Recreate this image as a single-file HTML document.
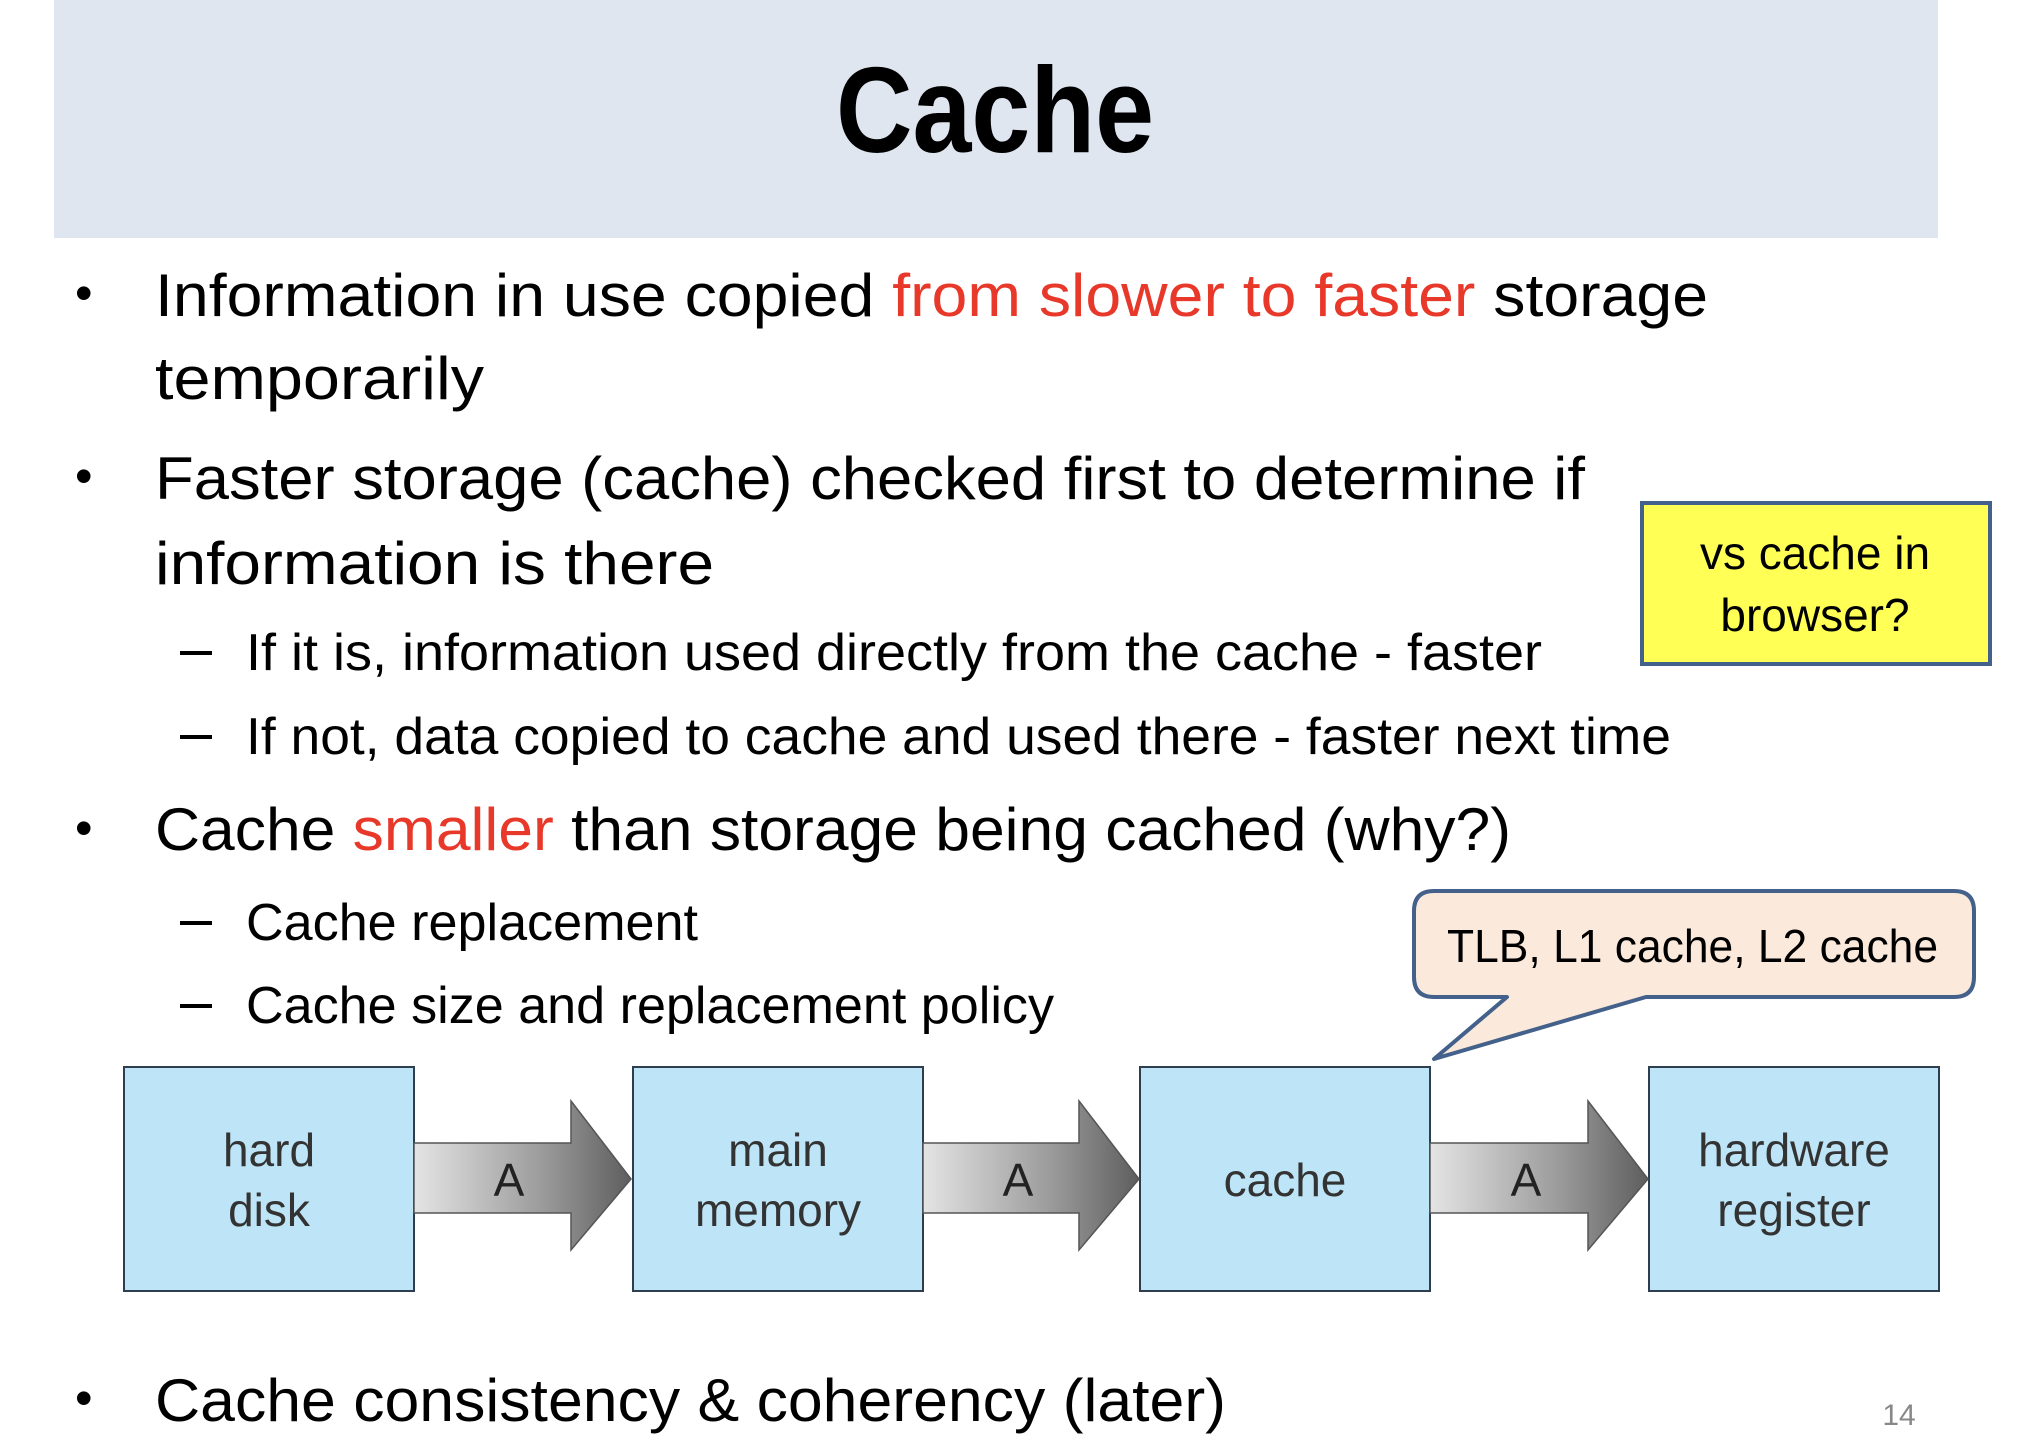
<!DOCTYPE html>
<html><head><meta charset="utf-8"><style>html,body{margin:0;padding:0;background:#fff}svg{display:block}</style></head>
<body>
<svg width="2020" height="1454" viewBox="0 0 2020 1454" xmlns="http://www.w3.org/2000/svg" font-family="Liberation Sans, sans-serif">
<defs>
<linearGradient id="g" x1="0" x2="1" y1="0" y2="0">
<stop offset="0" stop-color="#e4e4e4"/><stop offset="0.6" stop-color="#9a9a9a"/><stop offset="1" stop-color="#5e5e5e"/>
</linearGradient>
</defs>
<rect x="54" y="0" width="1884" height="238" fill="#dfe6f0"/>
<text x="995" y="152" text-anchor="middle" font-size="122" font-weight="bold" textLength="318" lengthAdjust="spacingAndGlyphs">Cache</text>

<g font-size="60" fill="#000">
<text x="75" y="310" font-size="50">•</text>
<text x="155" y="316" textLength="1553" lengthAdjust="spacingAndGlyphs">Information in use copied <tspan fill="#e8382a">from slower to faster</tspan> storage</text>
<text x="155" y="399" textLength="329" lengthAdjust="spacingAndGlyphs">temporarily</text>
<text x="75" y="493" font-size="50">•</text>
<text x="155" y="499" textLength="1430" lengthAdjust="spacingAndGlyphs">Faster storage (cache) checked first to determine if</text>
<text x="155" y="584" textLength="559" lengthAdjust="spacingAndGlyphs">information is there</text>
<text x="75" y="845" font-size="50">•</text>
<text x="155" y="850" textLength="1356" lengthAdjust="spacingAndGlyphs">Cache <tspan fill="#e8382a">smaller</tspan> than storage being cached (why?)</text>
<text x="75" y="1415" font-size="50">•</text>
<text x="155" y="1421" textLength="1071" lengthAdjust="spacingAndGlyphs">Cache consistency &amp; coherency (later)</text>
</g>
<g font-size="52" fill="#000">
<rect x="180" y="651" width="32" height="4"/>
<text x="246" y="670" textLength="1296" lengthAdjust="spacingAndGlyphs">If it is, information used directly from the cache - faster</text>
<rect x="180" y="735" width="32" height="4"/>
<text x="246" y="754" textLength="1425" lengthAdjust="spacingAndGlyphs">If not, data copied to cache and used there - faster next time</text>
<rect x="180" y="921" width="32" height="4"/>
<text x="246" y="940" textLength="452" lengthAdjust="spacingAndGlyphs">Cache replacement</text>
<rect x="180" y="1004" width="32" height="4"/>
<text x="246" y="1023" textLength="808" lengthAdjust="spacingAndGlyphs">Cache size and replacement policy</text>
</g>
<text x="1899" y="1425" text-anchor="middle" font-size="30" fill="#888">14</text>

<rect x="1642" y="503" width="348" height="161" fill="#ffff55" stroke="#44618b" stroke-width="4"/>
<text x="1815" y="569" text-anchor="middle" font-size="46">vs cache in</text>
<text x="1815" y="631" text-anchor="middle" font-size="46">browser?</text>

<path d="M1434 891 H1954 Q1974 891 1974 911 V977 Q1974 997 1954 997 H1646 L1434 1059 L1507 997 H1434 Q1414 997 1414 977 V911 Q1414 891 1434 891 Z" fill="#fbe9db" stroke="#44618b" stroke-width="4" stroke-linejoin="round"/>
<text x="1447" y="962" font-size="46" textLength="491" lengthAdjust="spacingAndGlyphs">TLB, L1 cache, L2 cache</text>

<g fill="#bde5f7" stroke="#2e3e4e" stroke-width="2">
<rect x="124" y="1067" width="290" height="224"/>
<rect x="633" y="1067" width="290" height="224"/>
<rect x="1140" y="1067" width="290" height="224"/>
<rect x="1649" y="1067" width="290" height="224"/>
</g>
<g fill="url(#g)" stroke="#555" stroke-width="1.5">
<path d="M414 1143 H571 V1101 L631 1179 L571 1250 V1213 H414 Z"/>
<path d="M923 1143 H1079 V1101 L1139 1179 L1079 1250 V1213 H923 Z"/>
<path d="M1430 1143 H1588 V1101 L1648 1179 L1588 1250 V1213 H1430 Z"/>
</g>
<g font-size="46" fill="#222" text-anchor="middle">
<text x="509" y="1196">A</text><text x="1018" y="1196">A</text><text x="1526" y="1196">A</text>
<g fill="#333">
<text x="269" y="1166">hard</text><text x="269" y="1226">disk</text>
<text x="778" y="1166">main</text><text x="778" y="1226">memory</text>
<text x="1285" y="1196">cache</text>
<text x="1794" y="1166">hardware</text><text x="1794" y="1226">register</text>
</g>
</g>
</svg>
</body></html>
